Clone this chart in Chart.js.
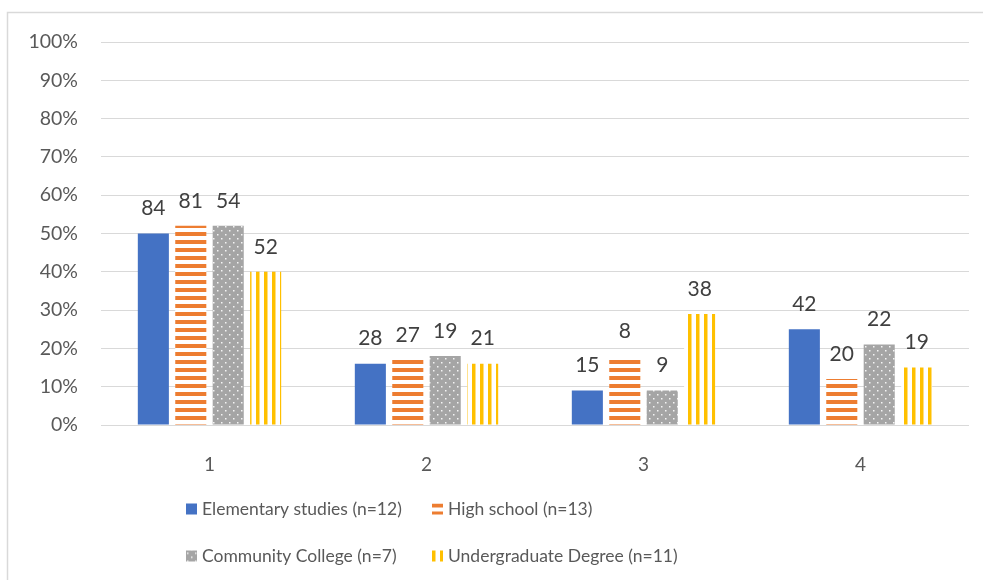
<!DOCTYPE html>
<html>
<head>
<meta charset="utf-8">
<script src="https://cdn.jsdelivr.net/npm/chart.js@4"></script>
<style>
  html, body { margin: 0; padding: 0; background: #fff; }
</style>
</head>
<body>
<canvas id="eduChart" width="983" height="580"></canvas>
<script>
var categories = ['1', '2', '3', '4'];
var seriesNames = [
  'Elementary studies (n=12)',
  'High school (n=13)',
  'Community College (n=7)',
  'Undergraduate Degree (n=11)'
];
// bar heights, percent
var elementary = [50, 16, 9, 25];
var highSchool = [52, 17, 18, 12];
var community = [52, 18, 9, 21];
var undergrad = [40, 16, 29, 15];
// counts printed above the bars
var elementaryCounts = [84, 28, 15, 42];
var highSchoolCounts = [81, 27, 8, 20];
var communityCounts = [54, 19, 9, 22];
var undergradCounts = [52, 21, 38, 19];
var yTicks = [0, 10, 20, 30, 40, 50, 60, 70, 80, 90, 100];

var FONT = 'Lato, "Open Sans", sans-serif';

function makePattern(w, h, draw) {
  var c = document.createElement('canvas');
  c.width = w;
  c.height = h;
  var g = c.getContext('2d');
  draw(g);
  return document.getElementById('eduChart').getContext('2d').createPattern(c, 'repeat');
}

var hStripes = makePattern(8, 8, function (g) {
  g.fillStyle = '#fff';
  g.fillRect(0, 0, 8, 8);
  g.fillStyle = '#ED7D31';
  g.fillRect(0, 0, 8, 4);
});
var dots = makePattern(8, 8, function (g) {
  g.fillStyle = '#A5A5A5';
  g.fillRect(0, 0, 8, 8);
  g.fillStyle = '#f4f4f4';
  g.fillRect(1, 2, 1.5, 1.5);
  g.fillRect(5, 6, 1.5, 1.5);
});
var vStripes = makePattern(8, 8, function (g) {
  g.fillStyle = '#fff';
  g.fillRect(0, 0, 8, 8);
  g.fillStyle = '#FFC000';
  g.fillRect(0, 0, 3.5, 8);
});

var countsBySeries = [elementaryCounts, highSchoolCounts, communityCounts, undergradCounts];

// counts above each bar
var countLabels = {
  id: 'countLabels',
  afterDatasetsDraw: function (chart) {
    var ctx = chart.ctx;
    ctx.save();
    ctx.font = '21px ' + FONT;
    ctx.fillStyle = '#404040';
    ctx.textAlign = 'center';
    ctx.textBaseline = 'middle';
    chart.data.datasets.forEach(function (ds, i) {
      chart.getDatasetMeta(i).data.forEach(function (bar, j) {
        ctx.fillText(String(countsBySeries[i][j]), bar.x, bar.y - 25);
      });
    });
    ctx.restore();
  }
};

// frame lines and the two-column legend
var frameAndLegend = {
  id: 'frameAndLegend',
  beforeDraw: function (chart) {
    var ctx = chart.ctx;
    ctx.save();
    ctx.strokeStyle = '#d9d9d9';
    ctx.lineWidth = 1.5;
    ctx.beginPath();
    ctx.moveTo(7.5, 580);
    ctx.lineTo(7.5, 12.5);
    ctx.lineTo(983, 12.5);
    ctx.stroke();
    ctx.restore();
  },
  afterDraw: function (chart) {
    var ctx = chart.ctx;
    var cols = [186, 432];
    var rows = [509, 556];
    ctx.save();
    ctx.font = '17.5px ' + FONT;
    ctx.fillStyle = '#595959';
    ctx.textBaseline = 'middle';
    chart.data.datasets.forEach(function (ds, i) {
      var x = cols[i % 2];
      var y = rows[Math.floor(i / 2)];
      ctx.save();
      ctx.translate(x, y - 5.5);
      ctx.fillStyle = ds.backgroundColor;
      ctx.fillRect(0, 0, 11, 11);
      ctx.restore();
      ctx.fillText(ds.label, x + 16, y);
    });
    ctx.restore();
  }
};

var config = {
  type: 'bar',
  data: {
    labels: categories,
    datasets: [
      { label: seriesNames[0], data: elementary, backgroundColor: '#4472C4' },
      { label: seriesNames[1], data: highSchool, backgroundColor: hStripes },
      { label: seriesNames[2], data: community, backgroundColor: dots },
      { label: seriesNames[3], data: undergrad, backgroundColor: vStripes }
    ]
  },
  options: {
    responsive: false,
    animation: false,
    layout: { padding: { top: 42, right: 14, left: 0, bottom: 0 } },
    datasets: {
      bar: { categoryPercentage: 0.69, barPercentage: 0.83 }
    },
    plugins: {
      legend: { display: false },
      tooltip: { enabled: false }
    },
    scales: {
      x: {
        grid: { display: false },
        border: { display: false },
        ticks: { color: '#595959', font: { family: FONT, size: 19 }, padding: 20 },
        afterFit: function (scale) { scale.height = 155; }
      },
      y: {
        min: 0,
        max: 100,
        afterBuildTicks: function (scale) {
          scale.ticks = yTicks.map(function (v) { return { value: v }; });
        },
        grid: { color: '#d9d9d9', drawTicks: false },
        border: { display: false },
        ticks: {
          color: '#595959',
          font: { family: FONT, size: 19.5 },
          padding: 23,
          callback: function (v) { return v + '%'; }
        },
        afterFit: function (scale) { scale.width = 101; }
      }
    }
  },
  plugins: [countLabels, frameAndLegend]
};

var eduChart = new Chart(document.getElementById('eduChart'), config);
</script>
</body>
</html>
